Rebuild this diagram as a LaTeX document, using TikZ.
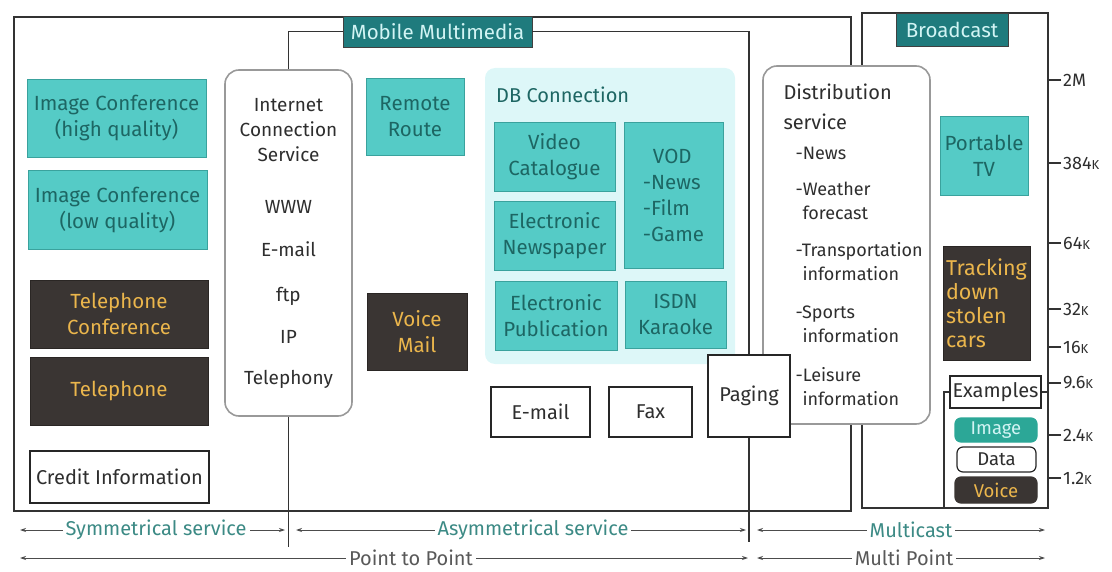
\documentclass[tikz,border=0pt]{standalone}
\usepackage{fontspec}
\setmainfont{Fira Sans}
\usetikzlibrary{arrows.meta}

\definecolor{tealfill}{HTML}{55CBC6}
\definecolor{tealedge}{HTML}{3AA29D}
\definecolor{tealtext}{HTML}{1D6663}
\definecolor{darkfill}{HTML}{3A3533}
\definecolor{darkedge}{HTML}{2A2624}
\definecolor{darktext}{HTML}{EBB64C}
\definecolor{tagfill}{HTML}{1F7B7D}
\definecolor{tagtext}{HTML}{D2F4F4}
\definecolor{dbfill}{HTML}{DDF7F8}
\definecolor{pillteal}{HTML}{2CA797}
\definecolor{spancol}{HTML}{3C8A85}
\definecolor{inkgray}{HTML}{2E2E2E}

% box from corner (x1,y1) to corner (x2,y2), in picture pixels
\newcommand\mkbox[7]{%
  \pgfmathsetmacro\mkbw{#5-#3}%
  \pgfmathsetmacro\mkbh{#6-#4}%
  \node[#1, minimum width=\mkbw pt, minimum height=\mkbh pt] (#2)
    at ({(#3+#5)/2},{(#4+#6)/2}) {#7};}
\newcommand\smk{{\fontsize{13}{13}\selectfont K}}
% list entries of the distribution service
\newcommand\dhead[1]{\hspace*{15pt}{\fontsize{20}{24}\selectfont #1}}
\newcommand\ditem[1]{\hspace*{27pt}-#1}
\newcommand\dcont[1]{\hspace*{34pt}#1}

\begin{document}
\begin{tikzpicture}[x=1pt,y=-1pt,
  base/.style={inner sep=1pt, align=center, text=inkgray,
    font=\fontsize{20.5}{26}\selectfont},
  tealbox/.style={base, fill=tealfill, draw=tealedge, line width=0.8pt, text=tealtext},
  darkbox/.style={base, fill=darkfill, draw=darkedge, line width=0.8pt, text=darktext},
  plainbox/.style={base, fill=white, draw=black!85, line width=1.4pt, font=\fontsize{20}{24}\selectfont},
  roundbox/.style={base, fill=white, draw=black!40, line width=1.6pt, rounded corners=14pt},
  tagbox/.style={base, fill=tagfill, draw=black!75, line width=0.8pt, text=tagtext},
  pill/.style={base, rounded corners=6pt, line width=1.2pt, font=\fontsize{18.5}{20}\selectfont},
  framebox/.style={draw=black!80, line width=1.3pt, inner sep=0pt},
  link/.style={draw=black!80, line width=1.3pt},
  span/.style={draw=black!70, line width=0.9pt, {Stealth[length=6pt,width=4pt]}-{Stealth[length=6pt,width=4pt]}},
  spantext/.style={fill=white, inner sep=3pt, text=spancol, font=\fontsize{20}{22}\selectfont},
  ratetick/.style={draw=black!80, line width=1.1pt},
  ratelabel/.style={anchor=west, inner sep=2pt, text=inkgray, font=\fontsize{18}{20}\selectfont},
]
\useasboundingbox (0,0) rectangle (1112,572);

% outer frames
\mkbox{framebox}{ptp}{14}{17}{851}{511}{}
\mkbox{framebox}{bcast}{862}{13}{1048}{508}{}

% database connection area
\mkbox{base, fill=dbfill, rounded corners=10pt}{db}{485}{68}{735}{364}{}
\node[base, anchor=west, text=tealtext, font=\fontsize{20}{24}\selectfont] (dbhead) at (495,95) {DB Connection};

% service tags
\mkbox{tagbox}{mmtag}{343}{16}{532}{47}{Mobile Multimedia}
\mkbox{tagbox}{bctag}{896}{13}{1008}{46}{Broadcast}

% left column
\mkbox{tealbox}{icHigh}{27}{79}{206}{157}{Image Conference\\(high quality)}
\mkbox{tealbox}{icLow}{28}{170}{207}{249}{Image Conference\\(low quality)}
\mkbox{darkbox}{telConf}{30}{280}{208}{348}{Telephone\\Conference}
\mkbox{darkbox}{tel}{30}{357}{208}{425}{Telephone}
\mkbox{plainbox}{credit}{30}{451}{209}{503}{Credit Information}

% internet connection service
\mkbox{roundbox, font=\fontsize{19}{25}\selectfont}{ics}{225}{70}{352}{416}{Internet\\Connection\\Service\\[27pt]WWW\\[18pt]E-mail\\[20pt]ftp\\[17pt]IP\\[16pt]Telephony}

% middle column
\mkbox{tealbox}{remote}{366}{78}{464}{155}{Remote\\Route}
\mkbox{darkbox}{vmail}{367}{293}{467}{370}{Voice\\Mail}

% database services
\mkbox{tealbox}{vcat}{494}{122}{615}{191}{Video\\Catalogue}
\mkbox{tealbox}{enews}{494}{201}{615}{270}{Electronic\\Newspaper}
\mkbox{tealbox, align=left}{vod}{624}{122}{723}{268}{\hspace*{10pt}VOD\\-News\\-Film\\-Game}
\mkbox{tealbox}{epub}{495}{281}{617}{350}{Electronic\\Publication}
\mkbox{tealbox}{isdn}{625}{281}{726}{348}{ISDN\\Karaoke}

% messaging
\mkbox{plainbox}{email}{491}{387}{590}{437}{E-mail}
\mkbox{plainbox}{fax}{609}{387}{692}{437}{Fax}

% distribution service
\mkbox{roundbox, align=left, text width=156pt, font=\fontsize{18}{24}\selectfont}{dist}{763}{66}{930}{424}{%
\dhead{Distribution}\\[6pt]\dhead{service}\\[6pt]
\ditem{News}\\[12pt]
\ditem{Weather}\\\dcont{forecast}\\[13pt]
\ditem{Transportation}\\\dcont{information}\\[14pt]
\ditem{Sports}\\\dcont{information}\\[15pt]
\ditem{Leisure}\\\dcont{information}}

\mkbox{plainbox}{paging}{708}{355}{790}{437}{Paging}

% broadcast services
\mkbox{tealbox}{ptv}{940}{116}{1028}{195}{Portable\\TV}
\mkbox{darkbox, align=left, font=\fontsize{21.5}{24}\selectfont}{track}{943}{246}{1030}{360}{Tracking\\down\\stolen\\cars}

% legend
\mkbox{plainbox, line width=1.1pt}{exm}{950}{376}{1041}{408}{Examples}
\mkbox{pill, fill=pillteal, draw=pillteal, text=tagtext}{exImage}{955}{418}{1037}{442}{Image}
\mkbox{pill, fill=white, draw=black!85}{exData}{957}{447}{1036}{472}{Data}
\mkbox{pill, fill=darkfill, draw=darkfill, text=darktext}{exVoice}{955}{477}{1037}{503}{Voice}
\coordinate (exfoot) at (944,508);
\draw[link, line width=1.1pt] (exm.west) -| (exfoot);
\draw[link, line width=1.1pt] (exm.east) -- (exm.east -| bcast.east);

% mobile multimedia boundary
\draw[link] (mmtag.west) -| (ics.north);
\draw[link] (mmtag.east) -| (paging.north);
\coordinate (icsfoot) at (288.5,547);
\coordinate (pgfoot) at (749,542);
\draw[link] (ics.south) -- (icsfoot);
\draw[link] (paging.south) -- (pgfoot);

% data rate scale
\foreach \nm/\yy/\txt in {r2M/80/2M, r384/163/384\smk, r64/243/64\smk,
    r32/309/32\smk, r16/347/16\smk, r96/383/9.6\smk,
    r24/435/2.4\smk, r12/478/1.2\smk} {
  \node[ratelabel] (\nm) at (1061,\yy) {\txt};
  \draw[ratetick] (\nm.west) -- (\nm.west -| bcast.east);
}

% service classes
\coordinate (symL) at (20,530);  \coordinate (symR) at (285,530);
\coordinate (asyL) at (296,530); \coordinate (asyR) at (746,530);
\coordinate (mcL) at (757,530);  \coordinate (mcR) at (1045,530);
\coordinate (ptpL) at (20,558);  \coordinate (ptpR) at (748,558);
\coordinate (mpL) at (757,558);  \coordinate (mpR) at (1045,558);
\draw[span] (symL) -- (symR);
\draw[span] (asyL) -- (asyR);
\draw[span] (mcL) -- (mcR);
\draw[span] (ptpL) -- (ptpR);
\draw[span] (mpL) -- (mpR);
\node[spantext] (symT) at (156,530) {Symmetrical service};
\node[spantext] (asyT) at (533,530) {Asymmetrical service};
\node[spantext] (mcT) at (911,530) {Multicast};
\node[spantext, text=black!65] (ptpT) at (411,558) {Point to Point};
\node[spantext, text=black!65] (mpT) at (904,558) {Multi Point};
\end{tikzpicture}
\end{document}
